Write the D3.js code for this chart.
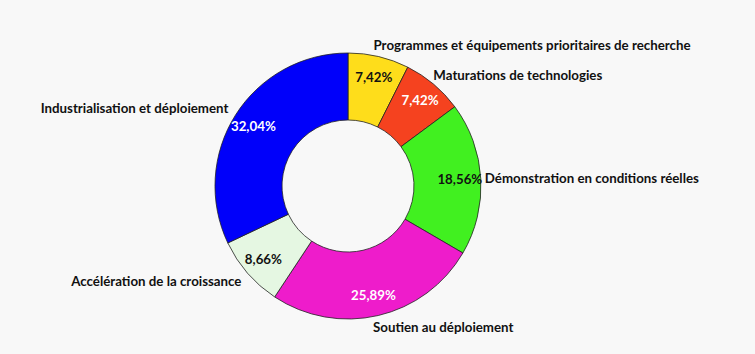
<!DOCTYPE html>
<html>
<head>
<meta charset="utf-8">
<script src="https://cdn.jsdelivr.net/npm/d3@7"></script>
<style>
  body { margin: 0; background: #f8f8f8; }
  svg text { font-family: Lato, "Open Sans", sans-serif; font-weight: bold; font-size: 13.3px; }
</style>
</head>
<body>
<div id="chart"></div>
<script>
var categories = ["Programmes et équipements prioritaires de recherche", "Maturations de technologies", "Démonstration en conditions réelles", "Soutien au déploiement", "Accélération de la croissance", "Industrialisation et déploiement"];
var values = [7.42, 7.42, 18.56, 25.89, 8.66, 32.04];
var valueLabels = ["7,42%", "7,42%", "18,56%", "25,89%", "8,66%", "32,04%"];
var colors = ["#fedd1b", "#f5421f", "#41f020", "#ee1ccb", "#e5f7e2", "#0000fa"];
var labelColors = ["#111", "#fff", "#111", "#fff", "#111", "#fff"];

var width = 755, height = 354;
var cx = 348, cy = 186;

var svg = d3.select("#chart")
    .append("svg")
    .attr("width", width)
    .attr("height", height);

var g = svg.append("g")
    .attr("transform", "translate(" + cx + "," + cy + ")");

var data = categories.map(function(c, i) { return {name: c, value: values[i], i: i}; });

var pie = d3.pie()
    .sort(null)
    .value(function(d) { return d.value; });

var pieData = pie(data);

var arc = d3.arc()
    .innerRadius(66)
    .outerRadius(133);

var pctArc = d3.arc().innerRadius(112).outerRadius(112);
var nameArc = d3.arc().innerRadius(145).outerRadius(145);

g.selectAll("path")
    .data(pieData)
    .enter()
    .append("path")
    .attr("d", arc)
    .attr("fill", function(d) { return colors[d.index]; })
    .attr("stroke", "#222")
    .style("stroke-width", "0.8px");

g.selectAll("text.pct")
    .data(pieData)
    .enter()
    .append("text")
    .attr("class", "pct")
    .attr("transform", function(d) { return "translate(" + pctArc.centroid(d) + ")"; })
    .attr("text-anchor", "middle")
    .attr("dy", "0.35em")
    .attr("fill", function(d) { return labelColors[d.index]; })
    .text(function(d) { return valueLabels[d.index]; });

g.selectAll("text.name")
    .data(pieData)
    .enter()
    .append("text")
    .attr("class", "name")
    .attr("transform", function(d) {
        var p = nameArc.centroid(d);
        var mid = (d.startAngle + d.endAngle) / 2;
        var off = mid < Math.PI ? -8 : 3;
        return "translate(" + (p[0] + off) + "," + p[1] + ")";
    })
    .attr("text-anchor", function(d) {
        return (d.startAngle + d.endAngle) / 2 < Math.PI ? "start" : "end";
    })
    .attr("dy", "0.35em")
    .attr("fill", "#111")
    .text(function(d) { return d.data.name; });
</script>
</body>
</html>
